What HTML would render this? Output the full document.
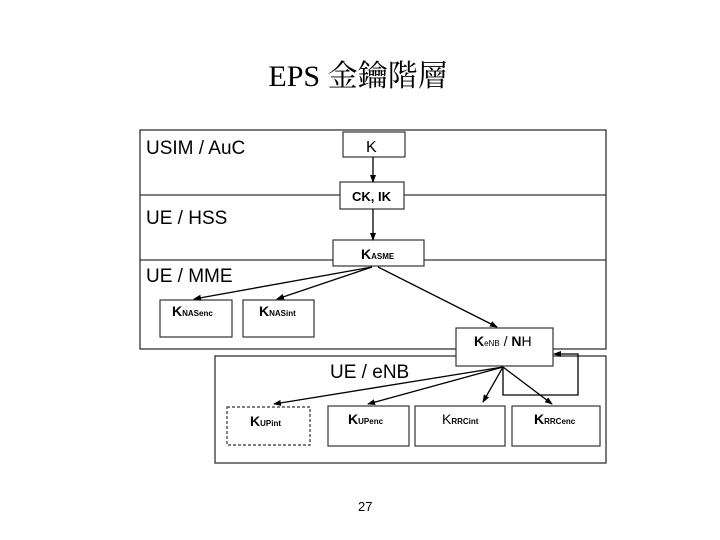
<!DOCTYPE html>
<html><head><meta charset="utf-8"><style>
body{margin:0;width:720px;height:540px;background:#fff;position:relative;overflow:hidden;font-family:"Liberation Sans",sans-serif}
.t{position:absolute;white-space:nowrap}
</style></head><body>
<div class="t" style="left:0;width:716px;top:51px;text-align:center;font-family:'Liberation Serif','Noto Serif CJK SC',serif;font-size:30px">EPS 金鑰階層</div>
<svg width="720" height="540" style="position:absolute;left:0;top:0" font-family="Liberation Sans, sans-serif">
<defs><marker id="a" markerWidth="8" markerHeight="8" refX="7" refY="4" orient="auto" markerUnits="userSpaceOnUse"><path d="M0,1 L8,4 L0,7z" fill="#000"/></marker></defs>
<g fill="none" stroke="#333" stroke-width="1.3">
<rect x="140" y="130" width="466" height="219"/>
<line x1="140" y1="195" x2="606" y2="195"/>
<line x1="140" y1="260" x2="606" y2="260"/>
<rect x="215" y="356" width="391" height="107"/>
</g>
<g fill="#fff" stroke="#333" stroke-width="1.2">
<rect x="343" y="132" width="62" height="25"/>
<rect x="340" y="182" width="64" height="27"/>
<rect x="333" y="240" width="91" height="26"/>
<rect x="160" y="300" width="72" height="37"/>
<rect x="243" y="300" width="71" height="37"/>
<rect x="456" y="328" width="97" height="38"/>
<rect x="227" y="407" width="83" height="38" stroke-dasharray="3,2"/>
<rect x="328" y="406" width="81" height="40"/>
<rect x="415" y="406" width="90" height="40"/>
<rect x="512" y="406" width="88" height="40"/>
</g>
<g stroke="#000" stroke-width="1.3" fill="none" marker-end="url(#a)">
<line x1="373" y1="157" x2="373" y2="182"/>
<line x1="373" y1="209" x2="373" y2="240"/>
<line x1="372" y1="267" x2="194" y2="299"/>
<line x1="372" y1="267" x2="277" y2="299"/>
<line x1="378" y1="267" x2="497" y2="327"/>
<line x1="503" y1="367" x2="274" y2="404"/>
<line x1="503" y1="367" x2="368" y2="404"/>
<line x1="503" y1="367" x2="483" y2="402"/>
<line x1="503" y1="367" x2="552" y2="404"/>
<polyline points="503,367 503,395 578,395 578,354 554,354"/>
</g>
<g font-size="16" fill="#000">
<text x="146" y="154" font-size="19">USIM / AuC</text>
<text x="146" y="224" font-size="19">UE / HSS</text>
<text x="146" y="282" font-size="19">UE / MME</text>
<text x="330" y="378" font-size="19">UE / e<tspan>NB</tspan></text>
<text x="366" y="152" font-size="16">K</text>
<text x="352" y="201" font-size="13" font-weight="bold">CK, IK</text>
<text x="361" y="259" font-size="14" font-weight="bold">K<tspan font-size="8">ASME</tspan></text>
<text x="172" y="316" font-size="14" font-weight="bold">K<tspan font-size="8">NASenc</tspan></text>
<text x="259" y="316" font-size="14" font-weight="bold">K<tspan font-size="8">NASint</tspan></text>
<text x="474" y="346" font-size="14"><tspan font-weight="bold">K</tspan><tspan font-size="8">eNB</tspan> / <tspan font-weight="bold">N</tspan>H</text>
<text x="250" y="426" font-size="14" font-weight="bold">K<tspan font-size="8">UPint</tspan></text>
<text x="348" y="424" font-size="14" font-weight="bold">K<tspan font-size="8">UPenc</tspan></text>
<text x="442" y="424" font-size="14">K<tspan font-size="8" font-weight="bold">RRCint</tspan></text>
<text x="534" y="424" font-size="14" font-weight="bold">K<tspan font-size="8">RRCenc</tspan></text>
<text x="358" y="511" font-size="13">27</text>
</g>
</svg>
</body></html>
